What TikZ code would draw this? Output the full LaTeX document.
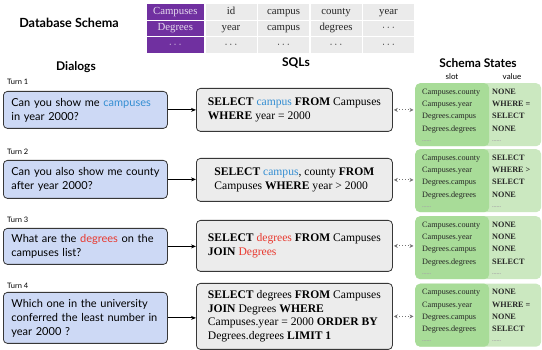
\documentclass[tikz,border=0pt]{standalone}
\usepackage{fontspec}
\setmainfont{Liberation Serif}
\newfontfamily\lato{Lato}
\usetikzlibrary{arrows.meta,matrix}
\definecolor{dlgblue}{RGB}{205,217,245}
\definecolor{sqlgray}{RGB}{236,236,236}
\definecolor{tabgray}{RGB}{235,235,235}
\definecolor{purp}{RGB}{112,48,160}
\definecolor{slotg}{RGB}{168,220,152}
\definecolor{valg}{RGB}{203,232,192}
\definecolor{kwblue}{RGB}{52,142,210}
\definecolor{kwred}{RGB}{232,56,46}
\definecolor{edgec}{RGB}{55,55,55}
\newcommand\mkstate[6]{%
  \node[stbox] (#1) at (415,#2) {};
  \node[slott] (#1a) at (422,{#2+11.5}) {Campuses.county};
  \node[slott] (#1b) at (422,{#2+23.7}) {Campuses.year};
  \node[slott] (#1c) at (422,{#2+35.9}) {Degrees.campus};
  \node[slott] (#1d) at (422,{#2+48.1}) {Degrees.degrees};
  \node[valt] (#1e) at (492,{#2+11.5}) {#3};
  \node[valt] (#1f) at (492,{#2+23.7}) {#4};
  \node[valt] (#1g) at (492,{#2+35.9}) {#5};
  \node[valt] (#1h) at (492,{#2+48.1}) {#6};
  \node[dott] (#1i) at (422,{#2+58.5}) {......};
  \node[dott] (#1j) at (492,{#2+58.5}) {......};
}
\begin{document}
\begin{tikzpicture}[x=1pt,y=-1pt,
  dlg/.style={draw=edgec, line width=0.8pt, fill=dlgblue, rounded corners=4pt, anchor=north west,
    text width=148pt, inner xsep=8pt, inner ysep=0pt, align=left, font=\lato\fontsize{11}{14}\selectfont},
  sqlbox/.style={draw=edgec, line width=0.8pt, fill=sqlgray, rounded corners=4pt, anchor=north west,
    minimum width=196pt, inner ysep=0pt, align=left, font=\fontsize{11.6}{13.5}\selectfont},
  stbox/.style={anchor=north west, minimum width=126pt, minimum height=63pt, inner sep=0pt,
    rounded corners=5pt, fill=valg,
    path picture={\fill[slotg] (path picture bounding box.north west) rectangle ([xshift=74pt]path picture bounding box.south west);}},
  slott/.style={anchor=base west, inner sep=0pt, font=\fontsize{8.2}{9}\selectfont, text=black!85},
  valt/.style={anchor=base west, inner sep=0pt, font=\fontsize{8.2}{9}\selectfont\bfseries, text=black!85},
  dott/.style={anchor=base west, inner sep=0pt, font=\fontsize{6}{7}\selectfont\bfseries, text=black!35},
  turn/.style={anchor=west, inner sep=0pt, font=\lato\fontsize{7.5}{9}\selectfont},
  head/.style={inner sep=0pt, font=\lato\bfseries\fontsize{12}{14}\selectfont},
  arr/.style={-{Stealth[length=5pt,width=4pt]}, line width=0.8pt, black},
  darr/.style={{Stealth[length=4pt,width=4pt]}-{Stealth[length=4pt,width=4pt]}, dotted, line width=0.9pt, black!55, shorten <=1pt, shorten >=1.5pt}
]
\useasboundingbox (0,0) rectangle (542,350);

% Database schema
\node[head, font=\lato\bfseries\fontsize{12.6}{14}\selectfont] (dbs) at (69,23) {Database Schema};
\matrix (tab) [matrix of nodes, anchor=north west, column sep=1.5pt, row sep=1pt,
  nodes={fill=tabgray, minimum width=51pt, minimum height=15.5pt, inner sep=0pt,
    text height=7.5pt, text depth=2.2pt, font=\fontsize{10.8}{11}\selectfont, text=black!85},
  column 1/.style={nodes={fill=purp, text=purp!18!white, minimum width=57.5pt}}] at (143,0.5) {
  Campuses & id & campus & county & year\\
  Degrees & year & campus & degrees & $\cdots$\\
  $\cdots$ & $\cdots$ & $\cdots$ & $\cdots$ & $\cdots$\\
};

% Column heads
\node[head] (hd) at (76,67) {Dialogs};
\node[head] (hq) at (296,63) {SQLs};
\node[head] (hs) at (478,63) {Schema States};
\node[inner sep=0pt, font=\lato\fontsize{8}{9}\selectfont] (hslot) at (452,77) {slot};
\node[inner sep=0pt, font=\lato\fontsize{8}{9}\selectfont] (hval) at (512,77) {value};

% Turn labels
\node[turn] (t1) at (7,82) {Turn 1};
\node[turn] (t2) at (7,151.5) {Turn 2};
\node[turn] (t3) at (7,219.5) {Turn 3};
\node[turn] (t4) at (7,285.5) {Turn 4};

% Dialogs
\node[dlg, minimum height=37pt] (d1) at (3,91) {Can you show me \textcolor{kwblue}{campuses}\\in year 2000?};
\node[dlg, minimum height=38pt] (d2) at (3,160) {Can you also show me county\\after year 2000?};
\node[dlg, minimum height=36pt] (d3) at (3,228) {What are the \textcolor{kwred}{degrees} on the\\campuses list?};
\node[dlg, minimum height=51pt] (d4) at (3,292) {Which one in the university\\conferred the least number in\\year 2000 ?};

% SQLs
\node[sqlbox, minimum height=43pt] (q1) at (196,88) {\textbf{SELECT} \textcolor{kwblue}{campus} \textbf{FROM} Campuses\\\textbf{WHERE} year = 2000};
\node[sqlbox, minimum height=43pt] (q2) at (196,158) {\textbf{SELECT} \textcolor{kwblue}{campus}, county \textbf{FROM}\\Campuses \textbf{WHERE} year > 2000};
\node[sqlbox, minimum height=51pt] (q3) at (196,220) {\textbf{SELECT} \textcolor{kwred}{degrees} \textbf{FROM} Campuses\\\textbf{JOIN} \textcolor{kwred}{Degrees}};
\node[sqlbox, minimum height=66pt] (q4) at (196,283) {\textbf{SELECT} degrees \textbf{FROM} Campuses\\\textbf{JOIN} Degrees \textbf{WHERE}\\Campuses.year = 2000 \textbf{ORDER BY}\\Degrees.degrees \textbf{LIMIT 1}};

% Schema states
\mkstate{s1}{83}{NONE}{WHERE =}{SELECT}{NONE}
\mkstate{s2}{149}{SELECT}{WHERE >}{SELECT}{NONE}
\mkstate{s3}{216}{NONE}{NONE}{NONE}{SELECT}
\mkstate{s4}{283.5}{NONE}{WHERE =}{NONE}{SELECT}

% Connectors
\foreach \i in {1,2,3,4}{
  \draw[arr] (d\i.east) -- (d\i.east -| q\i.west);
  \draw[darr] (q\i.east) -- (q\i.east -| s\i.west);
}
\end{tikzpicture}
\end{document}
